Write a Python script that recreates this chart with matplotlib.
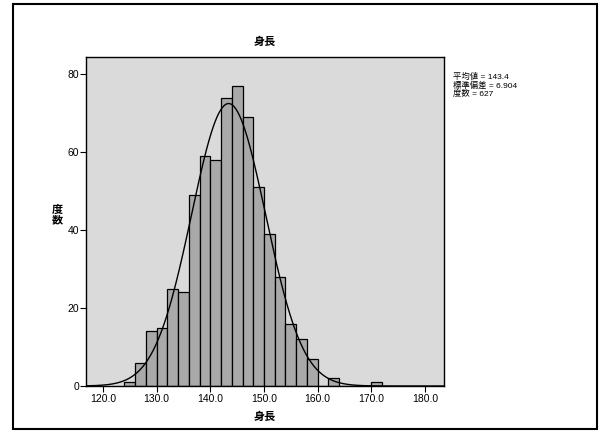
import numpy as np
import matplotlib.pyplot as plt
from matplotlib.patches import Rectangle

plt.rcParams['font.family'] = ['Liberation Sans', 'Noto Sans CJK JP', 'DejaVu Sans']

# histogram of heights, bins of 2.0 starting at 124
bin_left = [124, 126, 128, 130, 132, 134, 136, 138, 140, 142, 144, 146, 148,
            150, 152, 154, 156, 158, 160, 162, 164, 166, 168, 170]
counts = [1, 6, 14, 15, 25, 24, 49, 59, 58, 74, 77, 69, 51,
          39, 28, 16, 12, 7, 0, 2, 0, 0, 0, 1]
bin_width = 2.0

mean_h = 143.4
sd_h = 6.904
n_h = 627

xticks = [120, 130, 140, 150, 160, 170, 180]
yticks = [0, 20, 40, 60, 80]

fig = plt.figure(figsize=(6.01, 4.32), dpi=100)
fig.patch.set_facecolor('white')

# outer frame around the whole chart
fig.patches.append(Rectangle((13 / 601, 1 - 429 / 432), 584 / 601, 425 / 432,
                             transform=fig.transFigure, fill=False,
                             edgecolor='black', linewidth=1.5))

ax = fig.add_axes([86 / 601, 1 - 386 / 432, 358 / 601, 329 / 432])
ax.set_facecolor('#dadada')

ax.bar(bin_left, counts, width=bin_width, align='edge',
       color='#a9a9a9', edgecolor='black', linewidth=0.9, zorder=2)

xs = np.linspace(116.8, 183.6, 400)
pdf = np.exp(-0.5 * ((xs - mean_h) / sd_h) ** 2) / (sd_h * np.sqrt(2 * np.pi))
ax.plot(xs, n_h * bin_width * pdf, color='black', linewidth=1.0, zorder=3)

ax.set_xlim(116.83, 183.54)
ax.set_ylim(0, 84.4)
ax.set_xticks(xticks)
ax.set_xticklabels([f'{t:.1f}' for t in xticks])
ax.set_yticks(yticks)
ax.tick_params(axis='both', direction='out', length=4, width=0.8,
               labelsize=7.5, colors='black')
ax.tick_params(axis='x', pad=2)
ax.tick_params(axis='y', pad=1)
for side in ['top', 'right', 'left', 'bottom']:
    ax.spines[side].set_linewidth(1.0)

ax.set_title('身長', fontsize=8, fontweight='bold', pad=9)
ax.set_xlabel('身長', fontsize=8, fontweight='bold', labelpad=5)
fig.text(57 / 601, 1 - 215 / 432, '度\n数', fontsize=8, fontweight='bold',
         ha='center', va='center', linespacing=1.0)

stats = f'平均値 = {mean_h}\n標準偏差 = {sd_h}\n度数 = {n_h}'
fig.text(453 / 601, 1 - 73 / 432, stats, fontsize=6, ha='left', va='top',
         linespacing=1.0)

fig.savefig('out.png', dpi=100)
